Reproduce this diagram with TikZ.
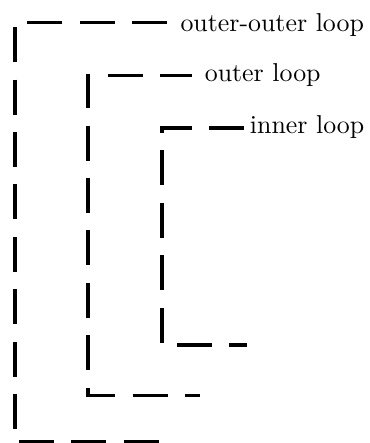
\documentclass[tikz,border=0pt]{standalone}
\usepackage{tikz}

\begin{document}
\begin{tikzpicture}[x=0.3865pt,y=-0.3865pt,
		loopline/.style={line width=1.5pt,dash pattern=on 13.53pt off 6.71pt},
		looplabel/.style={anchor=base west,inner sep=0pt}]
	\useasboundingbox (0,0) rectangle (369,443);

	% where each loop starts, bends and ends
	\coordinate (oostart)	at (167,22.5);
	\coordinate (oobend)	at (14.7,442);
	\coordinate (ooend)		at (167,442);
	\coordinate (ostart)	at (191.7,75.5);
	\coordinate (obend)		at (88.3,395.5);
	\coordinate (oend)		at (200,395.5);
	\coordinate (istart)	at (244.3,128);
	\coordinate (ibend)		at (162,345);
	\coordinate (iend)		at (247.3,345);

	\node[looplabel] (oolabel)	at (180,31.7)	{outer-outer loop};
	\node[looplabel] (olabel)	at (204.3,81.7)	{outer loop};
	\node[looplabel] (ilabel)	at (249.4,133.3)	{inner loop};

	\draw[loopline] (oostart) -| (oobend) -- (ooend);
	\draw[loopline,dash phase=1.35pt] (ostart) -| (obend) -- (oend);
	\draw[loopline] (istart) -| (ibend) -- (iend);
\end{tikzpicture}
\end{document}
